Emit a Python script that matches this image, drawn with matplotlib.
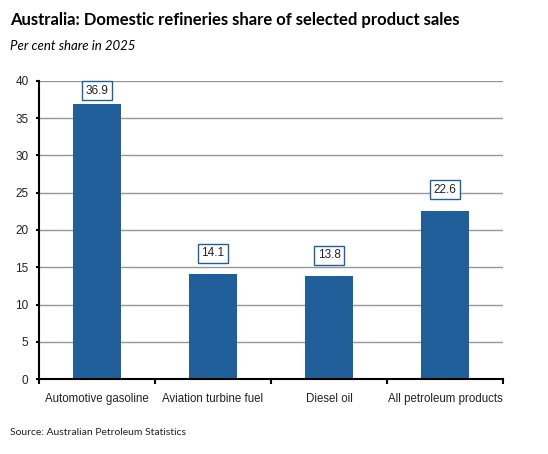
import numpy as np
import matplotlib
matplotlib.use('Agg')
import matplotlib.pyplot as plt

categories = ['Automotive gasoline', 'Aviation turbine fuel', 'Diesel oil', 'All petroleum products']
share = [36.9, 14.1, 13.8, 22.6]

bar_color = '#215f9a'
text_color = '#222222'

fig = plt.figure(figsize=(5.48, 4.54), dpi=100)
ax = fig.add_axes([0.071, 0.165, 0.847, 0.657])

x = np.arange(len(categories))
ax.bar(x, share, width=0.41, color=bar_color, zorder=2)

ymax = 40
for xi, v in zip(x, share):
    # label sits above the bar, pushed down if it would leave the plot area
    ly = min(v + 2.8, ymax - 1.3)
    ax.text(xi, ly, f'{v:.1f}', ha='center', va='center', fontsize=8.5,
            family='Liberation Sans', color=text_color, zorder=3,
            bbox=dict(boxstyle='square,pad=0.3', fc='white', ec=bar_color, lw=1))

ax.set_xlim(-0.5, len(categories) - 0.5)
ax.set_ylim(0, ymax)
ax.set_yticks(np.arange(0, ymax + 1, 5))
ax.yaxis.grid(True, color='#969696', lw=1, zorder=0)
ax.set_axisbelow(True)

ax.set_xticks(x)
ax.set_xticklabels(categories, family='Liberation Sans', fontsize=8.3, color=text_color)
ax.set_xticks(np.arange(-0.5, len(categories), 1), minor=True)
ax.tick_params(axis='x', which='major', length=0, pad=10)
ax.tick_params(axis='x', which='minor', length=3.5, width=1.5, color='black')
ax.tick_params(axis='y', length=2.5, width=1.5, labelsize=8.5, pad=5, labelcolor=text_color)
for lbl in ax.get_yticklabels():
    lbl.set_family('Liberation Sans')

for s in ['top', 'right']:
    ax.spines[s].set_visible(False)
ax.spines['left'].set_linewidth(1.5)
ax.spines['bottom'].set_linewidth(1.5)

fig.text(0.018, 0.955, 'Australia: Domestic refineries share of selected product sales',
         fontsize=12, fontweight='bold', family='Lato', va='center', ha='left')
fig.text(0.018, 0.898, 'Per cent share in 2025', fontsize=9.5, style='italic',
         family='Lato', va='center', ha='left')
fig.text(0.018, 0.048, 'Source: Australian Petroleum Statistics', fontsize=7.5,
         family='Lato', va='center', ha='left', color=text_color)

fig.savefig('out.png', dpi=100)
